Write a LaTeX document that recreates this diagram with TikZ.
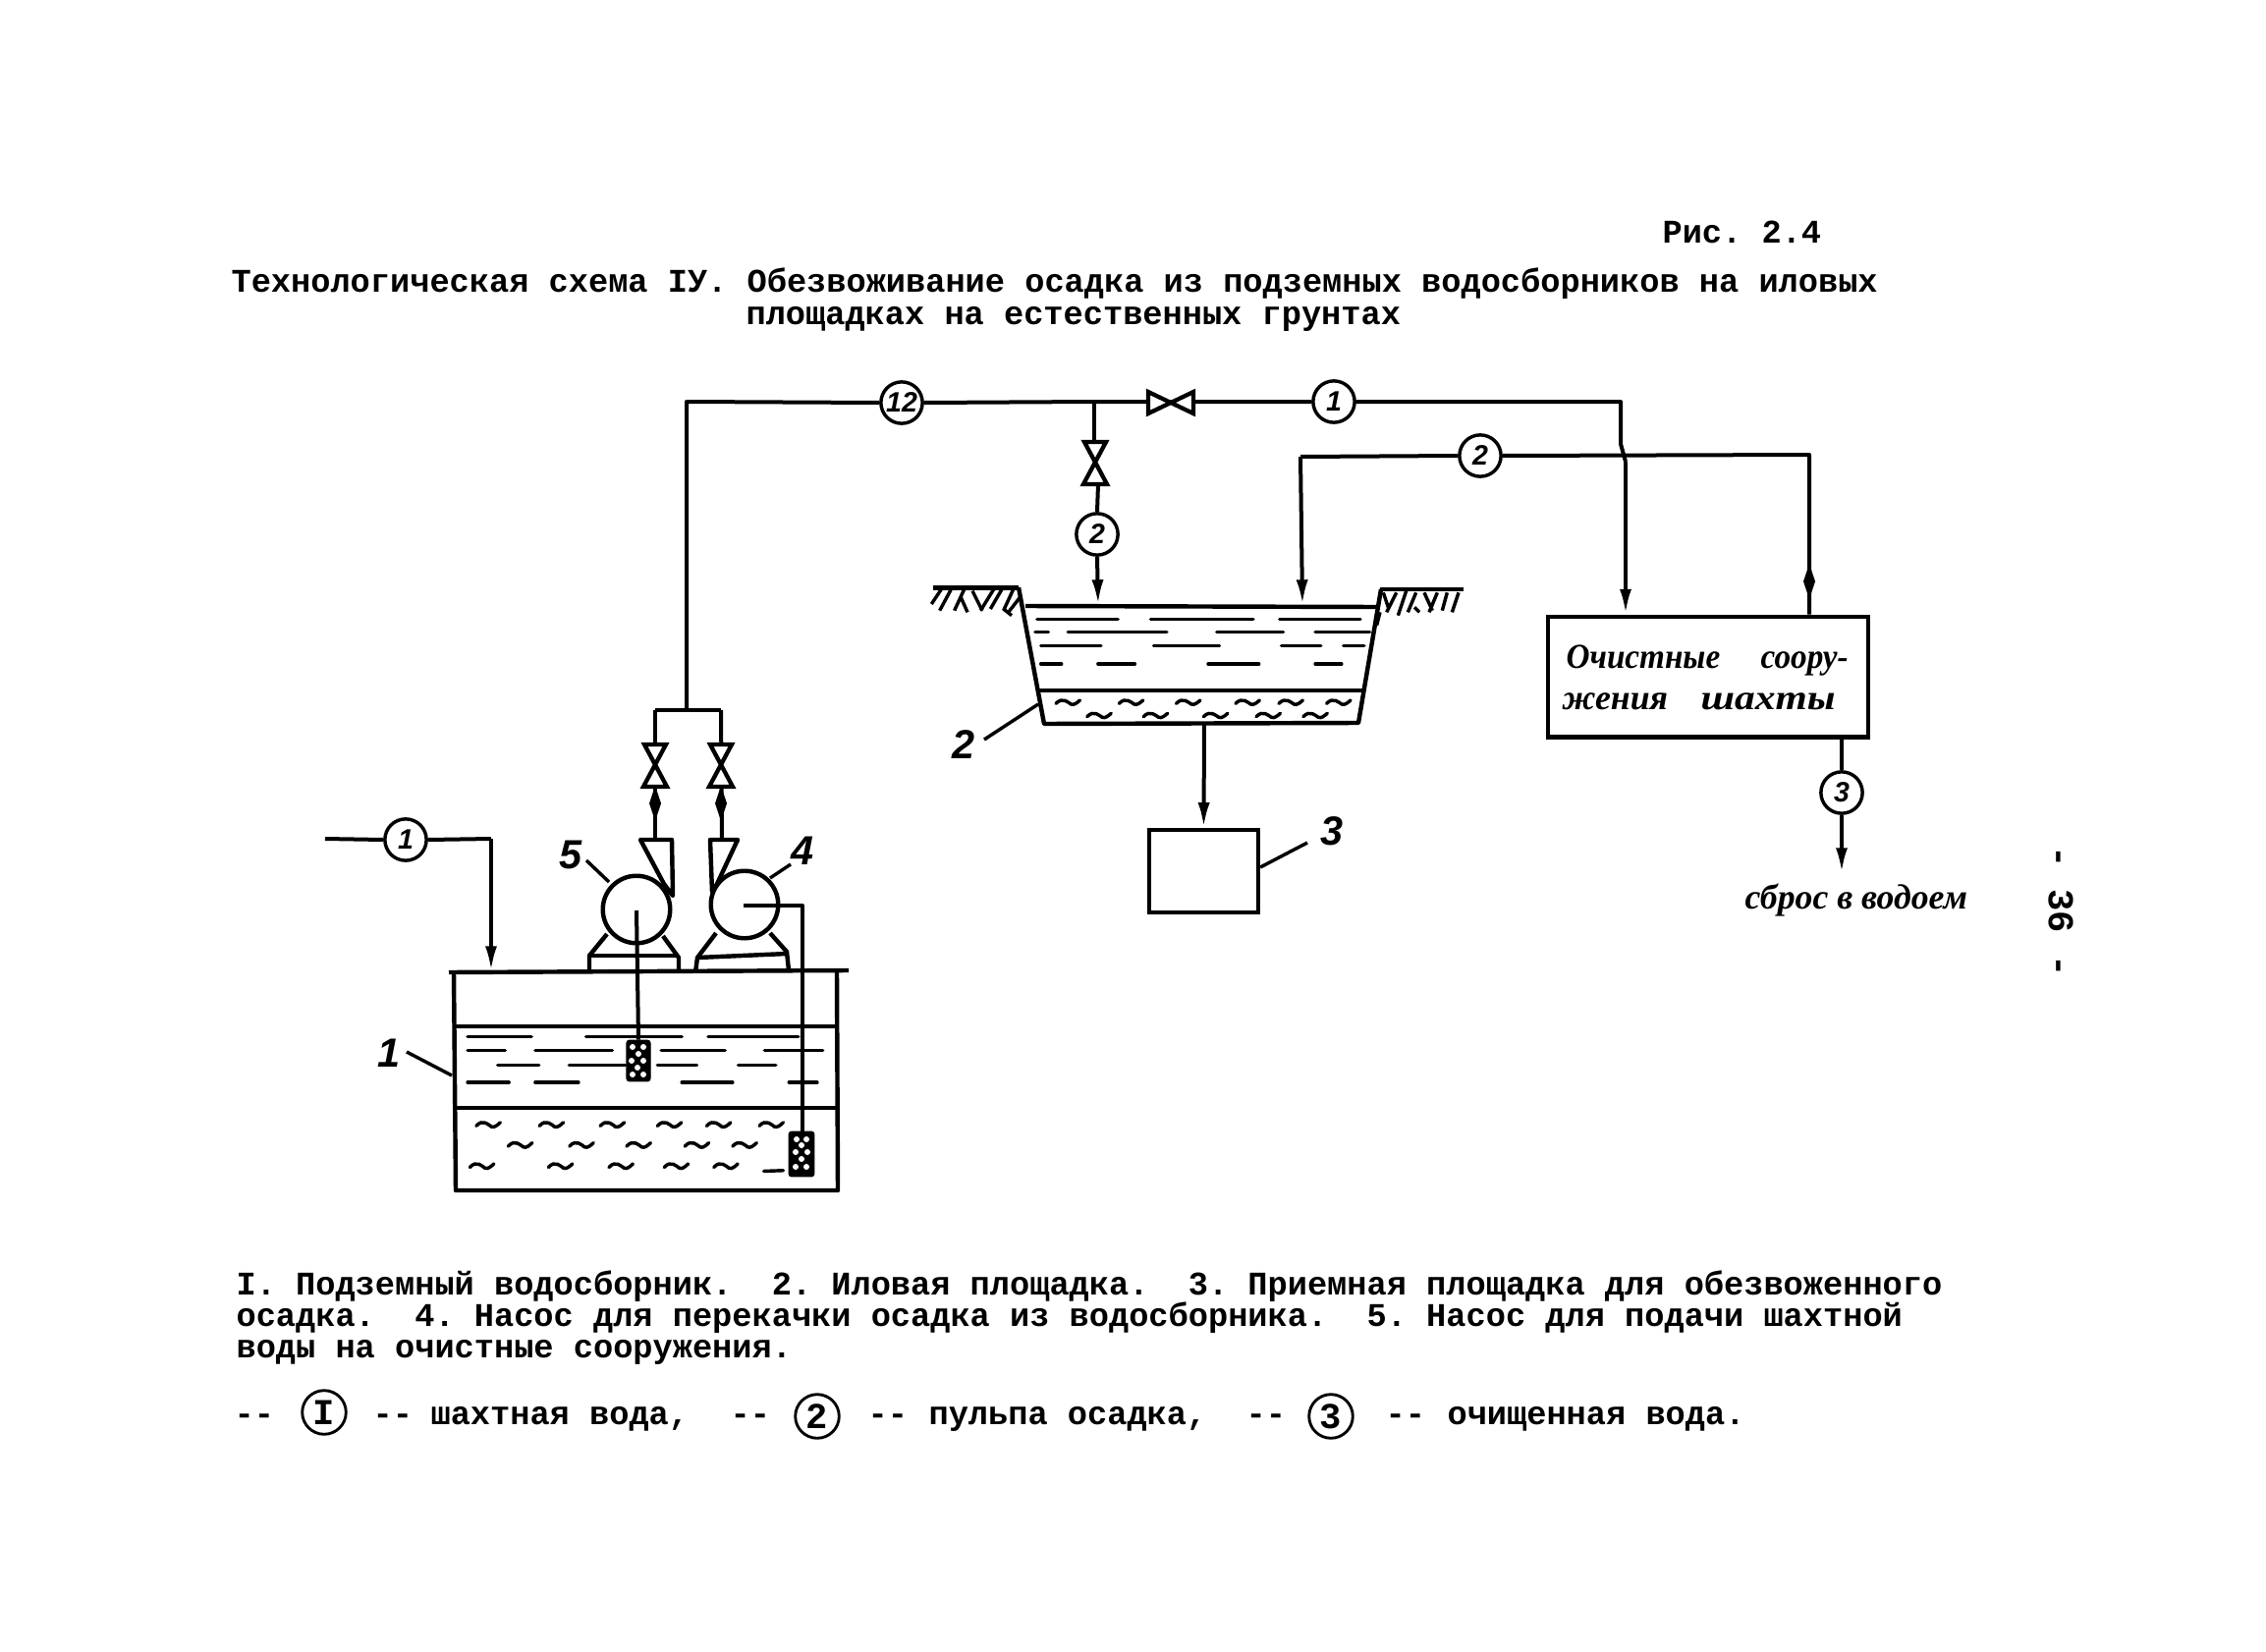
\documentclass[tikz,border=0pt]{standalone}
\usepackage{fontspec}
\usetikzlibrary{arrows.meta,calc}
\newfontfamily\typefont[BoldFont={Liberation Mono Bold}]{Liberation Mono}
\newfontfamily\handfont{Liberation Serif Italic}
\newfontfamily\handbold{Liberation Serif Bold Italic}
\newfontfamily\numfont{Liberation Sans Bold Italic}
\newcommand{\bowV}[2]{\draw[valve] (#1-11,#2-20)--(#1+11,#2-20)--(#1-12,#2+23)--(#1+12,#2+23)--cycle;}
\newcommand{\marker}[2]{\fill (#1-6,#2)--(#1,#2-18)--(#1+6,#2)--(#1,#2+18)--cycle;}
\newcommand{\dashrow}[2]{\foreach \a/\b in {#2}{\draw[wat] (\a,#1)--(\b,#1);}}
\newcommand{\tilderow}[2]{\foreach \a in {#2}{\draw[wat] (\a-32,#1+4) .. controls (\a-14,#1-18) and (\a+2,#1+2) .. (\a+8,#1+6) .. controls (\a+16,#1+10) and (\a+24,#1+2) .. (\a+32,#1-6);}}
\tikzset{
  pipe/.style={line width=1.4pt,line join=round},
  wall/.style={line width=1.55pt,line join=round},
  thin line/.style={line width=1.2pt},
  wat/.style={line width=1.2pt,line cap=round},
  flow/.style={pipe,-{Latex[length=9pt,width=4.2pt]}},
  valve/.style={line width=1.5pt,fill=white,line join=miter},
  flowcircle/.style={circle,draw,fill=white,line width=1.2pt,minimum size=14.8pt,inner sep=0pt,font=\numfont\fontsize{10}{10}\selectfont},
  legendcircle/.style={circle,draw,fill=white,line width=1pt,minimum size=15.6pt,inner sep=0pt,font=\typefont\bfseries\fontsize{13}{13}\selectfont},
  typed/.style={anchor=base west,inner sep=0pt,font=\typefont\bfseries\frenchspacing\fontsize{11.78}{12}\selectfont},
  tag/.style={inner sep=0pt,font=\numfont\fontsize{14.5}{15}\selectfont},
  hand/.style={inner sep=0pt,font=\handbold\fontsize{12.5}{13}\selectfont},
  unitbox/.style={draw,line width=1.45pt,fill=white,inner sep=0pt}
}
\begin{document}
\begin{tikzpicture}[x=0.35pt,y=-0.35pt]
\useasboundingbox (0,0) rectangle (2307,1682);
\fill[white] (0,0) rectangle (2307,1682);

% ---- typed text
\node[typed] (fig) at (1692,247) {Рис. 2.4};
\node[typed] (ta) at (235,297) {Технологическая схема IУ. Обезвоживание осадка из подземных водосборников на иловых};
\node[typed] (tb) at (759,330) {площадках на естественных грунтах};
\node[typed] (la) at (240,1318) {I. Подземный водосборник.\ \ 2. Иловая площадка.\ \ 3. Приемная площадка для обезвоженного};
\node[typed] (lb) at (240,1350) {осадка.\ \ 4. Насос для перекачки осадка из водосборника.\ \ 5. Насос для подачи шахтной};
\node[typed] (lc) at (240,1382) {воды на очистные сооружения.};
\node[typed] (k1) at (238,1450) {-{}-};
\node[legendcircle] (kc1) at (330,1438) {I};
\node[typed] (k2) at (379,1450) {-{}-};
\node[typed] (k3) at (438,1450) {шахтная вода,};
\node[typed] (k4) at (743,1450) {-{}-};
\node[legendcircle] (kc2) at (832,1442) {2};
\node[typed] (k5) at (883,1450) {-{}-};
\node[typed] (k6) at (945,1450) {пульпа осадка,};
\node[typed] (k7) at (1268,1450) {-{}-};
\node[legendcircle] (kc3) at (1355,1442) {3};
\node[typed] (k8) at (1410,1450) {-{}-};
\node[typed] (k9) at (1473,1450) {очищенная вода.};
\node[inner sep=0pt,rotate=-90,font=\typefont\bfseries\fontsize{13}{13}\selectfont] (pg) at (2098,928) {- 36 -};

% ---- junctions
\coordinate (jA) at (699,723);
\coordinate (jAtop) at (699,409);
\coordinate (rise5) at (667,723);
\coordinate (rise4) at (734,723);
\coordinate (fun5) at (667,855);
\coordinate (fun4) at (735,855);
\coordinate (jB) at (1114,409);
\coordinate (pipeEnd) at (1650,409);
\coordinate (crossA) at (1650,452);
\coordinate (crossB) at (1655,470);
\coordinate (feed0) at (331,854);
\coordinate (feed1) at (500,854);
\coordinate (feed2) at (500,989);
\coordinate (c2L) at (1324,465);
\coordinate (c2R) at (1842,463);
\coordinate (tankIn) at (1118,616);
\coordinate (tankIn2) at (1326,616);
\coordinate (tankOut) at (1226,737);
\coordinate (dump) at (1875,889);

% ---- units
\node[unitbox,minimum width=114pt,minimum height=43pt] (cleanbox) at (1739,689) {};
\node[unitbox,minimum width=38.9pt,minimum height=29.4pt] (recv) at (1225.5,887) {};

% ---- circles
\node[flowcircle] (c12) at (918,410) {12};
\node[flowcircle] (c1t) at (1358,409) {1};
\node[flowcircle] (c2v) at (1117,544) {2};
\node[flowcircle] (c2h) at (1507,464) {2};
\node[flowcircle] (c3) at (1875,807) {3};
\node[flowcircle] (c1f) at (413,855) {1};

% ---- pipes
\draw[pipe] (jA) -- (jAtop) -- (c12.west);
\draw[pipe] (c12.east) -- (jB) -- (c1t.west);
\draw[pipe] (c1t.east) -- (pipeEnd) -- (crossA) -- (crossB);
\draw[flow] (crossB) -- (cleanbox.north -| crossB);
\draw[pipe] (jB) -- (jB |- 445,450);
\draw[pipe] (1118,493) -- (c2v.north);
\draw[flow] (c2v.south) -- (tankIn);
\draw[pipe] (c2h.west) -- (c2L);
\draw[flow] (c2L) -- (tankIn2);
\draw[pipe] (c2h.east) -- (c2R) -- (c2R |- cleanbox.north);
\marker{1842}{592}
\draw[pipe] (rise5) -- (rise4);
\draw[pipe] (rise5) -- (fun5);
\draw[pipe] (rise4) -- (fun4);
\marker{667}{818}
\marker{734}{818}
\draw[flow] (tankOut) -- (recv.north);
\draw[pipe] (cleanbox.south -| c3) -- (c3.north);
\draw[flow] (c3.south) -- (dump);
\draw[pipe] (feed0) -- (c1f.west);
\draw[pipe] (c1f.east) -- (feed1);
\draw[flow] (feed1) -- (feed2);

% ---- valves
\bowV{667}{778}
\bowV{734}{778}
\bowV{1115}{470}
\draw[valve] (1169,399)--(1169,421)--(1215,399)--(1215,421)--cycle;

% ---- tank 1
\draw[wall] (457,990)--(864,988);
\draw[wall] (462,990)--(464,1212)--(853,1212)--(852,990);
\draw[wall] (464,1045)--(853,1045);
\draw[wall] (464,1128)--(853,1128);
\begin{scope}[shift={(300,680)},xscale=0.3827,yscale=0.3571]
\dashrow{1052}{460/630,775/1030,1100/1340}
\dashrow{1090}{460/560,640/845,975/1145,1250/1405}
\dashrow{1133}{540/650,730/880,965/1070,1180/1280}
\dashrow{1182}{460/570,640/755,1030/1165,1315/1390}
\tilderow{1302}{515,683,845,997,1128,1268}
\tilderow{1360}{600,763,915,1070,1197}
\tilderow{1420}{498,707,868,1015,1147}
\draw[wat] (1248,1435)--(1300,1433);
\end{scope}

% ---- pumps
\draw[wall] (600,990)--(600,973)--(618,951);
\draw[wall] (691,990)--(691,975)--(675,953);
\draw[wall] (600,973)--(691,973);
\draw[wall] (708,990)--(710,975)--(729,950);
\draw[wall] (803,988)--(801,969)--(784,950);
\draw[wall] (710,975)--(801,971);
\draw[wall,fill=white] (652,855)--(684,855)--(685,912)--(676,900)--cycle;
\draw[wall,fill=white] (723,855)--(751,855)--(730,900)--(725,908)--cycle;
\node[circle,draw,line width=1.55pt,fill=white,minimum size=24pt,inner sep=0pt] (p5) at (648,926) {};
\node[circle,draw,line width=1.55pt,fill=white,minimum size=24pt,inner sep=0pt] (p4) at (758,921) {};
\coordinate (rod5) at (648,927);
\coordinate (rod4) at (757,922);
\coordinate (knee4) at (817,922);
\node[draw,fill=black,rounded corners=1pt,minimum width=8.4pt,minimum height=14.6pt,inner sep=0pt] (s5) at (650,1080) {};
\node[draw,fill=black,rounded corners=1pt,minimum width=9pt,minimum height=16pt,inner sep=0pt] (s4) at (816,1175) {};
\draw[pipe] (rod5) -- (s5.north);
\draw[pipe] (rod4) -- (knee4) -- (s4.north -| knee4);
\foreach \x/\y in {644/1066,655/1066,650/1073,643/1080,655/1080,649/1087,644/1094,655/1094,
  811/1160,821/1160,816/1166,810/1173,822/1173,816/1180,810/1188,821/1188}
  {\fill[white] (\x,\y) circle (1.05pt);}

% ---- pit
\draw[wall] (1037,598)--(1063,737)--(1383,736)--(1406,600);
\draw[wall] (1044,617)--(1402,618);
\draw[wall] (1058,703)--(1388,703);
\begin{scope}[shift={(920,380)},xscale=0.3827,yscale=0.3333]
\dashrow{752}{355/570,657/930,1000/1215}
\dashrow{790}{350/385,437/700,833/1010,1095/1240}
\dashrow{833}{365/525,665/840,1005/1110,1170/1225}
\dashrow{888}{365/420,517/615,810/945,1095/1165}
\tilderow{1005}{437,605,757,915,1030,1157}
\tilderow{1045}{520,670,830,970,1095}
\end{scope}
% ground hatching
\begin{scope}[shift={(930,580)},scale=0.3333]
\draw[wall] (60,55)--(322,55);
\foreach \a/\b/\c/\d in {85/60/55/105,115/60/80/125,155/60/125/125,145/85/165/130,180/65/210/125,245/60/205/125,270/60/235/120,305/60/275/125,325/85/290/130,275/120/300/140}
  {\draw[thin line] (\a,\b)--(\c,\d);}
\end{scope}
\begin{scope}[shift={(1390,580)},scale=0.3333]
\draw[wall] (45,60)--(300,60);
\foreach \a/\b/\c/\d in {55/70/70/115,95/70/65/130,125/65/100/140,155/70/130/130,150/115/165/130,180/70/205/125,220/70/195/130,250/70/235/125,285/70/265/130,45/130/35/170}
  {\draw[thin line] (\a,\b)--(\c,\d);}
\end{scope}

% ---- tags and leaders
\node[tag] (t1) at (396,1072) {1};
\coordinate (l1a) at (414,1071); \coordinate (l1b) at (460,1095);
\draw[thin line] (l1a) -- (l1b);
\node[tag] (t5) at (581,870) {5};
\coordinate (l5a) at (597,876); \coordinate (l5b) at (620,898);
\draw[thin line] (l5a) -- (l5b);
\node[tag] (t4) at (817,866) {4};
\coordinate (l4a) at (805,880); \coordinate (l4b) at (784,894);
\draw[thin line] (l4a) -- (l4b);
\node[tag] (t2) at (981,758) {2};
\coordinate (l2a) at (1002,753); \coordinate (l2b) at (1057,717);
\draw[thin line] (l2a) -- (l2b);
\node[tag] (t3) at (1356,846) {3};
\coordinate (l3a) at (1331,858);
\draw[thin line] (l3a) -- (recv.east |- 0,883);

% ---- handwriting
\node[hand,anchor=base west] (w1) at (1594,680) {\scalebox{0.93}[1]{Очистные}};
\node[hand,anchor=base west] (w2) at (1792,680) {\scalebox{0.93}[1]{соору-}};
\node[hand,anchor=base west] (w3) at (1590,722) {жения};
\node[hand,anchor=base west] (w4) at (1731,722) {\scalebox{1.16}[1]{шахты}};
\node[hand,anchor=base west] (w5) at (1776,925) {сброс в водоем};
\end{tikzpicture}
\end{document}
